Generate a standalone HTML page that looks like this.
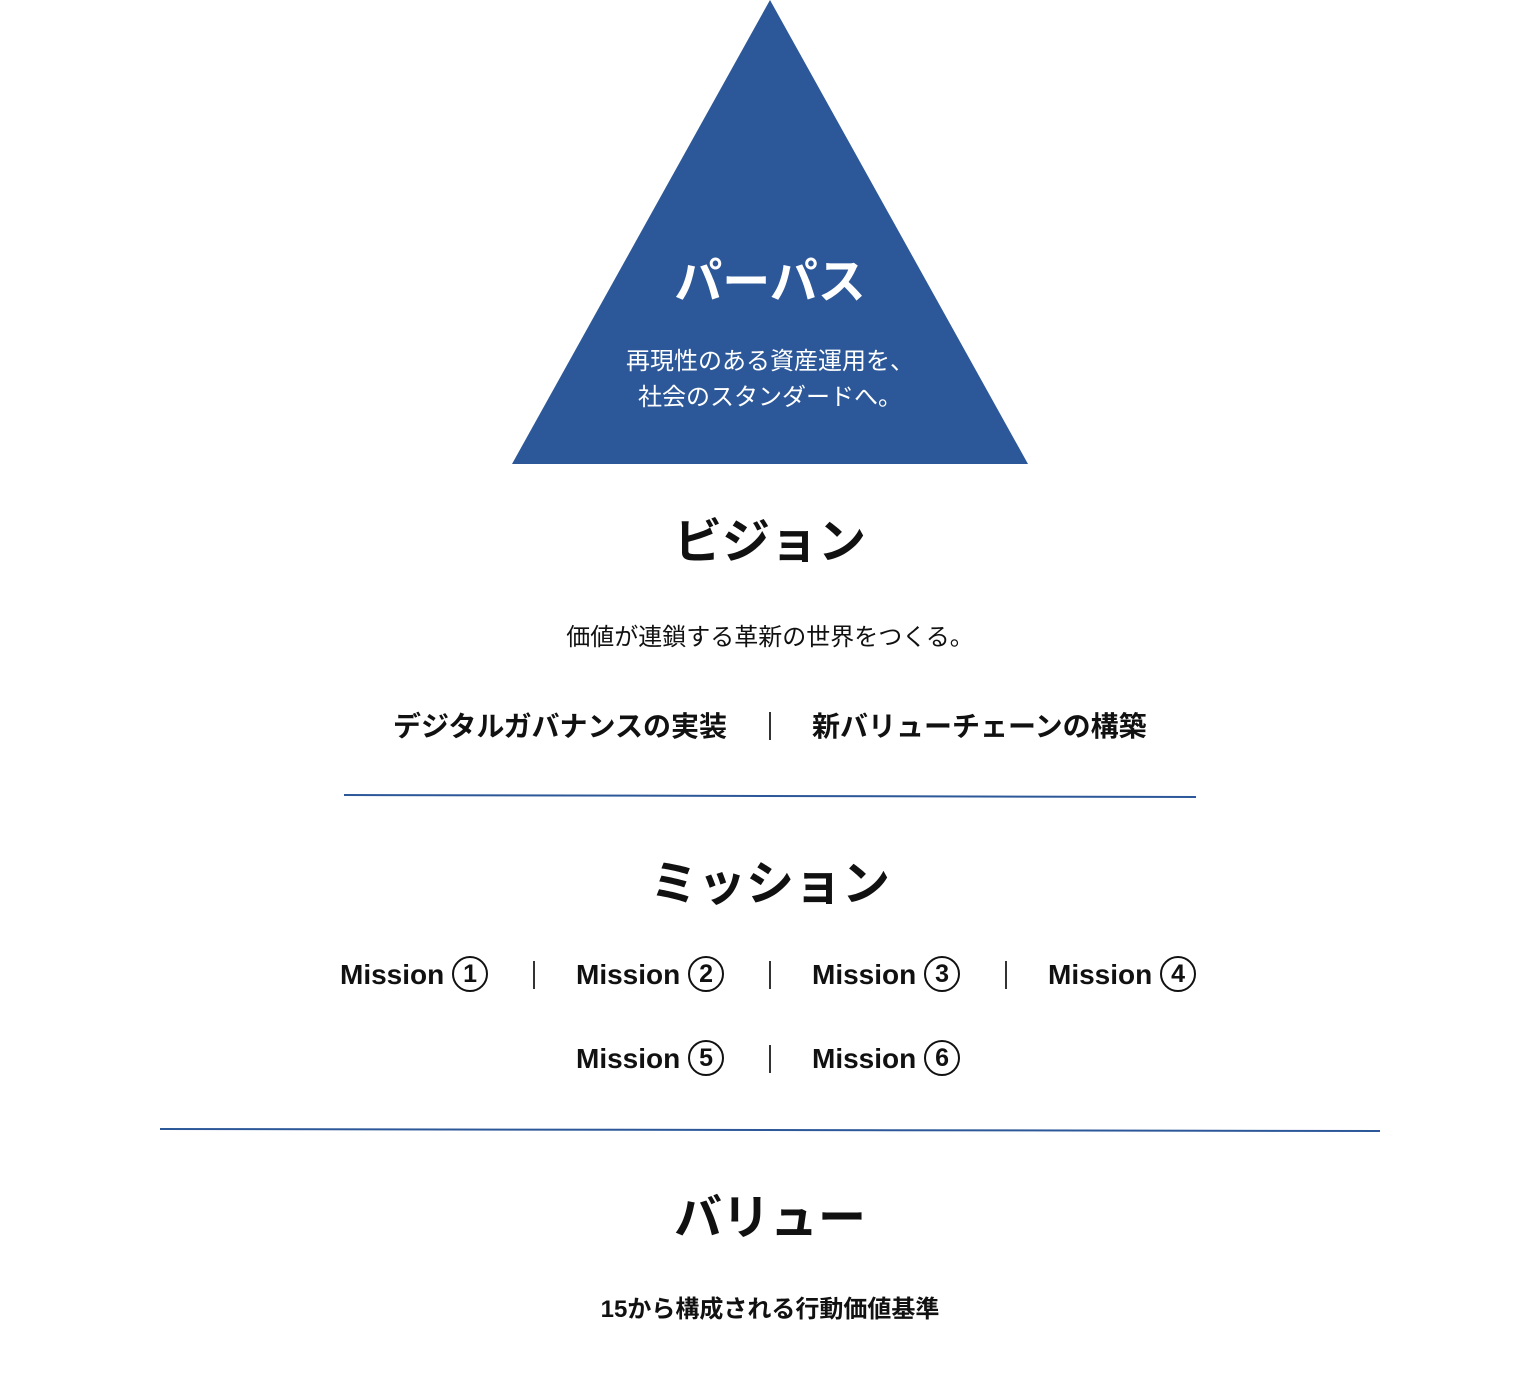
<!DOCTYPE html>
<html><head><meta charset="utf-8"><style>
body{margin:0;width:1540px;height:1386px;background:#fff;position:relative;overflow:hidden;font-family:"Liberation Sans","Noto Sans CJK JP",sans-serif;color:#111}
.a{position:absolute;white-space:nowrap}
.c{left:0;width:1540px;text-align:center}
.m{font-size:28px;font-weight:bold;line-height:38px}
.m span{display:inline-block;width:32px;height:32px;border:2.5px solid #111;border-radius:50%;text-align:center;line-height:32px;font-size:25px;vertical-align:top;position:relative;top:0px;margin-left:0px}
.sep{position:absolute;width:1.5px;height:28px;background:#333}
</style></head><body>
<svg class="a" style="left:0;top:0" width="1540" height="1386">
<polygon points="770,0 1028,464 512,464" fill="#2c5899"/>
<line x1="344" y1="795" x2="1196" y2="797" stroke="#2c5899" stroke-width="2"/>
<line x1="160" y1="1129" x2="1380" y2="1131" stroke="#2c5899" stroke-width="2"/>
</svg>
<div class="a c" style="top:253px;font-size:48px;font-weight:bold;color:#fff;line-height:60px">パーパス</div>
<div class="a c" style="top:344px;font-size:24px;color:#fff;line-height:36px">再現性のある資産運用を、<br>社会のスタンダードへ。</div>
<div class="a c" style="top:513px;font-size:48px;font-weight:bold;line-height:60px">ビジョン</div>
<div class="a c" style="top:622px;font-size:24px;line-height:32px">価値が連鎖する革新の世界をつくる。</div>
<div class="a" style="right:813px;top:708px;font-size:28px;font-weight:bold;line-height:38px">デジタルガバナンスの実装</div>
<div class="sep" style="left:769px;top:712px"></div>
<div class="a" style="left:812px;top:708px;font-size:28px;font-weight:bold;line-height:38px">新バリューチェーンの構築</div>
<div class="a c" style="top:855px;font-size:48px;font-weight:bold;line-height:60px">ミッション</div>
<div class="a m" style="left:340px;top:956px">Mission <span>1</span></div>
<div class="sep" style="left:533px;top:961px"></div>
<div class="a m" style="left:576px;top:956px">Mission <span>2</span></div>
<div class="sep" style="left:769px;top:961px"></div>
<div class="a m" style="left:812px;top:956px">Mission <span>3</span></div>
<div class="sep" style="left:1005px;top:961px"></div>
<div class="a m" style="left:1048px;top:956px">Mission <span>4</span></div>
<div class="a m" style="left:576px;top:1040px">Mission <span>5</span></div>
<div class="sep" style="left:769px;top:1045px"></div>
<div class="a m" style="left:812px;top:1040px">Mission <span>6</span></div>
<div class="a c" style="top:1189px;font-size:48px;font-weight:bold;line-height:60px">バリュー</div>
<div class="a c" style="top:1294px;font-size:24px;font-weight:bold;line-height:32px">15から構成される行動価値基準</div>
</body></html>
